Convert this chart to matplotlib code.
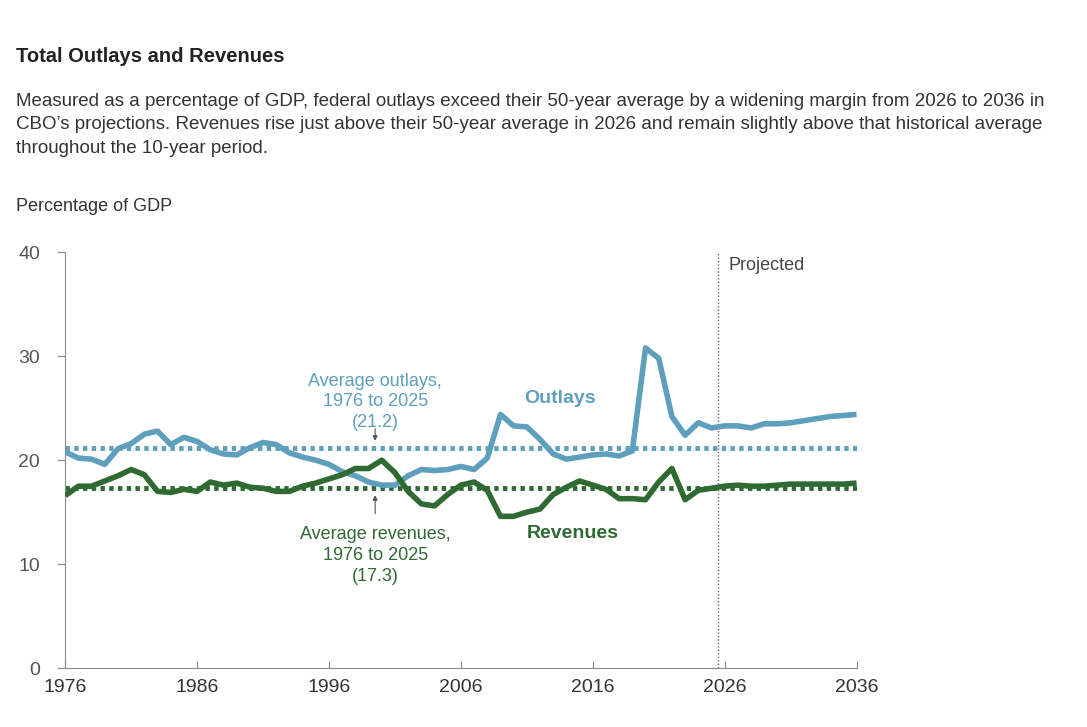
import matplotlib.pyplot as plt
import numpy as np

plt.rcParams['font.family'] = ['Liberation Sans', 'DejaVu Sans']

years = list(range(1976, 2037))
outlays = [20.8, 20.2, 20.1, 19.6, 21.1, 21.6, 22.5, 22.8, 21.5, 22.2, 21.8, 21.0, 20.6, 20.5, 21.2,
           21.7, 21.5, 20.7, 20.3, 20.0, 19.6, 18.9, 18.5, 17.9, 17.6, 17.6, 18.5, 19.1, 19.0, 19.1,
           19.4, 19.1, 20.2, 24.4, 23.3, 23.2, 22.0, 20.6, 20.1, 20.3, 20.5, 20.6, 20.4, 20.9, 30.8,
           29.8, 24.2, 22.4, 23.6, 23.1, 23.3, 23.3, 23.1, 23.5, 23.5, 23.6, 23.8, 24.0, 24.2, 24.3, 24.4]
revenues = [16.6, 17.5, 17.5, 18.0, 18.5, 19.1, 18.6, 17.0, 16.9, 17.2, 17.0, 17.9, 17.6, 17.8, 17.4,
            17.3, 17.0, 17.0, 17.5, 17.8, 18.2, 18.6, 19.2, 19.2, 20.0, 18.8, 17.0, 15.8, 15.6, 16.7,
            17.6, 17.9, 17.1, 14.6, 14.6, 15.0, 15.3, 16.7, 17.4, 18.0, 17.6, 17.2, 16.3, 16.3, 16.2,
            17.9, 19.2, 16.2, 17.1, 17.3, 17.5, 17.6, 17.5, 17.5, 17.6, 17.7, 17.7, 17.7, 17.7, 17.7, 17.8]
avg_outlays = 21.2
avg_revenues = 17.3
xticks = [1976, 1986, 1996, 2006, 2016, 2026, 2036]
yticks = [0, 10, 20, 30, 40]

blue = "#5e9fbd"
green = "#2f6a33"
gray = "#666666"

fig = plt.figure(figsize=(10.87, 7.27), dpi=100)
ax = fig.add_axes([0.06, 0.081, 0.728, 0.572])

ax.plot(years, outlays, color=blue, lw=4, solid_capstyle="butt", zorder=3)
ax.plot(years, revenues, color=green, lw=4, solid_capstyle="butt", zorder=3)
ax.axhline(avg_outlays, color=blue, lw=3.5, ls=(0, (0.9, 0.9)), zorder=2)
ax.axhline(avg_revenues, color=green, lw=3.5, ls=(0, (0.9, 0.9)), zorder=2)
ax.axvline(2025.5, color=gray, lw=1, ls=(0, (1, 1.5)), zorder=1)

ax.set_xlim(1976, 2036)
ax.set_ylim(0, 40)
ax.set_xticks(xticks)
ax.set_yticks(yticks)
for s in ["top", "right"]:
    ax.spines[s].set_visible(False)
for s in ["left", "bottom"]:
    ax.spines[s].set_color("#888888")
ax.tick_params(axis="x", direction="in", length=5, color="#888888",
               labelsize=14, labelcolor="#333333", pad=8)
ax.tick_params(axis="y", direction="out", length=6, color="#888888",
               labelsize=14, labelcolor="#555555", pad=12)

ax.text(2026.3, 39.5, "Projected", fontsize=13, color="#444444", va="top")
ax.text(2013.5, 25.5, "Outlays", fontsize=14, color=blue, fontweight="bold", ha="center")
ax.text(2014.5, 12.5, "Revenues", fontsize=14, color=green, fontweight="bold", ha="center")
ax.text(1999.5, 25.6, "Average outlays,\n1976 to 2025\n(21.2)", fontsize=13, color=blue,
        ha="center", va="center", linespacing=1.3)
ax.annotate("", xy=(1999.5, avg_outlays + 0.4), xytext=(1999.5, 23.3),
            arrowprops=dict(arrowstyle="-|>", color="#555555", lw=0.8, mutation_scale=7))
ax.text(1999.5, 10.8, "Average revenues,\n1976 to 2025\n(17.3)", fontsize=13, color=green,
        ha="center", va="center", linespacing=1.3)
ax.annotate("", xy=(1999.5, avg_revenues - 0.4), xytext=(1999.5, 14.6),
            arrowprops=dict(arrowstyle="-|>", color="#555555", lw=0.8, mutation_scale=7))

fig.text(0.015, 0.915, "Total Outlays and Revenues", fontsize=14.5, fontweight="bold", color="#222222")
fig.text(0.015, 0.79, "Measured as a percentage of GDP, federal outlays exceed their 50-year average by a widening margin from 2026 to 2036 in\n"
         "CBO\u2019s projections. Revenues rise just above their 50-year average in 2026 and remain slightly above that historical average\n"
         "throughout the 10-year period.", fontsize=13.5, color="#333333", linespacing=1.5)
fig.text(0.015, 0.71, "Percentage of GDP", fontsize=13, color="#333333")

fig.savefig("out.png", dpi=100)
